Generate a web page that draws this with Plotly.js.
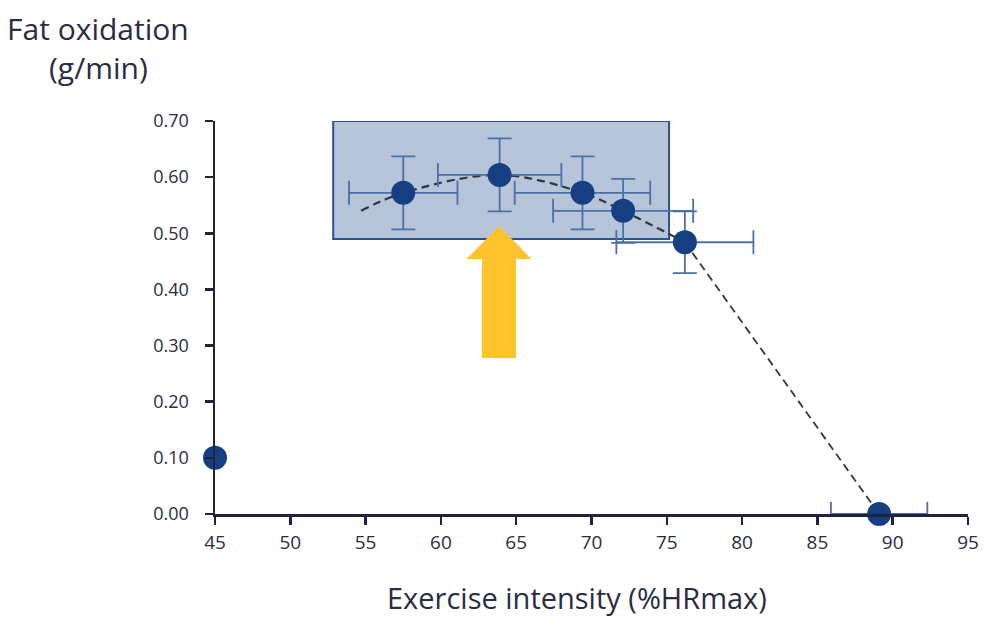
<!DOCTYPE html>
<html>
<head>
<meta charset="utf-8">
<script src="https://cdn.plot.ly/plotly-3.0.1.min.js"></script>
<style>html,body{margin:0;padding:0;background:#fff;}#chart{width:985px;height:619px;}</style>
</head>
<body>
<div id="chart"></div>
<script>
// Data
const intensity      = [57.5, 63.9, 69.4, 72.1, 76.2, 89.1, 45.0];   // %HRmax
const fatOxidation   = [0.572, 0.604, 0.572, 0.540, 0.484, 0.0, 0.10]; // g/min
const intensityErr   = [3.6, 4.1, 4.5, 4.65, 4.55, 3.2, 0];
const fatOxErr       = [0.065, 0.065, 0.065, 0.057, 0.055, 0, 0];

// dashed trend line
const curveX = [54.7, 57.5, 63.9, 69.4, 72.1, 76.2];
const curveY = [0.540, 0.572, 0.604, 0.572, 0.540, 0.484];
const dropX  = [76.2, 89.1];
const dropY  = [0.484, 0.0];

const xTicks = [45, 50, 55, 60, 65, 70, 75, 80, 85, 90, 95];
const yTicks = [0, 0.1, 0.2, 0.3, 0.4, 0.5, 0.6, 0.7];
const yTickText = yTicks.map(v => v.toFixed(2));

// optimal zone box & arrow (data coordinates)
const zoneX = [52.85, 75.15], zoneY = [0.49, 0.70];
const arrowX = 63.86, arrowTipY = 0.513, arrowHeadY = 0.454, arrowBaseY = 0.278;
const arrowHeadHalf = 2.16, arrowShaftHalf = 1.13;

const navy = '#163f82', errBlue = '#4a70a8', txt = '#2a2c44', axisCol = '#1f2340';
const fontFam = '"Open Sans", "Noto Sans", sans-serif';

const traces = [
  {x: curveX, y: curveY, mode: 'lines', type: 'scatter', line: {shape: 'spline', color: '#33363f', width: 2.2, dash: '8px,5px'}, hoverinfo: 'skip', cliponaxis: false},
  {x: dropX, y: dropY, mode: 'lines', type: 'scatter', line: {color: '#33363f', width: 1.8, dash: '8px,5px'}, hoverinfo: 'skip', cliponaxis: false},
  {x: intensity, y: fatOxidation, mode: 'markers', type: 'scatter', cliponaxis: false,
   marker: {size: 24, color: navy},
   error_x: {type: 'data', array: intensityErr, visible: true, color: errBlue, thickness: 1.8, width: 12},
   error_y: {type: 'data', array: fatOxErr, visible: true, color: errBlue, thickness: 1.8, width: 12}}
];

const arrowPath = `M ${arrowX} ${arrowTipY} L ${arrowX + arrowHeadHalf} ${arrowHeadY} L ${arrowX + arrowShaftHalf} ${arrowHeadY} L ${arrowX + arrowShaftHalf} ${arrowBaseY} L ${arrowX - arrowShaftHalf} ${arrowBaseY} L ${arrowX - arrowShaftHalf} ${arrowHeadY} L ${arrowX - arrowHeadHalf} ${arrowHeadY} Z`;

const layout = {
  width: 985, height: 619,
  margin: {l: 215, r: 17, t: 121, b: 105},
  paper_bgcolor: '#fff', plot_bgcolor: '#fff',
  showlegend: false,
  font: {family: fontFam, color: txt},
  xaxis: {range: [45, 95], tickvals: xTicks, showgrid: false, zeroline: false,
          showline: true, linecolor: axisCol, linewidth: 2.5,
          ticks: 'outside', ticklen: 8, tickwidth: 2.5, tickcolor: axisCol, ticklabelstandoff: 2,
          tickfont: {size: 19, color: txt, family: fontFam}, fixedrange: true},
  yaxis: {range: [0, 0.7], tickvals: yTicks, ticktext: yTickText, showgrid: false, zeroline: false,
          showline: true, linecolor: axisCol, linewidth: 2.5,
          ticks: 'outside', ticklen: 8, tickwidth: 2.5, tickcolor: axisCol, ticklabelstandoff: 12,
          tickfont: {size: 18, color: txt, family: fontFam}, fixedrange: true},
  shapes: [
    {type: 'rect', xref: 'x', yref: 'y', x0: zoneX[0], x1: zoneX[1], y0: zoneY[0], y1: zoneY[1],
     fillcolor: '#b7c5da', line: {color: '#2c5294', width: 2}, layer: 'below'},
    {type: 'path', xref: 'x', yref: 'y', path: arrowPath, fillcolor: '#fdc22c', line: {width: 0}, layer: 'above'}
  ],
  annotations: [
    {text: 'Fat oxidation', xref: 'paper', yref: 'paper', x: -0.155, y: 1.2366, xanchor: 'center', yanchor: 'middle', showarrow: false,
     font: {size: 30, color: txt, family: fontFam}},
    {text: '(g/min)', xref: 'paper', yref: 'paper', x: -0.155, y: 1.1349, xanchor: 'center', yanchor: 'middle', showarrow: false,
     font: {size: 30, color: txt, family: fontFam}},
    {text: 'Exercise intensity (%HRmax)', xref: 'paper', yref: 'paper', x: 0.481, y: -0.2672, xanchor: 'center', yanchor: 'bottom', showarrow: false,
     font: {size: 29, color: txt, family: fontFam}}
  ]
};

Plotly.newPlot('chart', traces, layout, {displayModeBar: false, staticPlot: true});
</script>
</body>
</html>
